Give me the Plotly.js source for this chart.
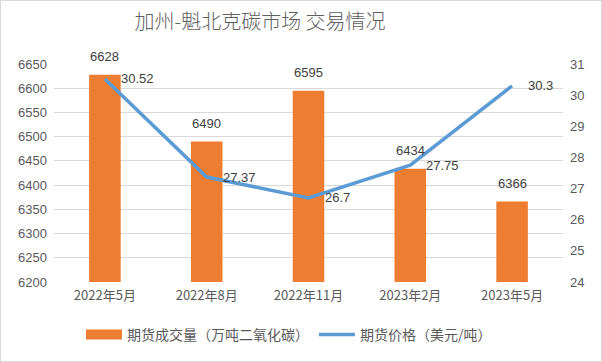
<!DOCTYPE html>
<html><head><meta charset="utf-8">
<script src="https://cdn.plot.ly/plotly-3.0.1.min.js"></script>
<style>
html,body{margin:0;padding:0;background:#fff;}
#wrap{position:relative;width:602px;height:362px;}
#chart{position:absolute;left:0;top:0;width:602px;height:362px;}
#frame{position:absolute;left:0;top:0;width:600px;height:360px;border:1px solid #d9d9d9;pointer-events:none;}
</style></head>
<body>
<div id="wrap"><div id="chart"></div><div id="frame"></div></div>
<script>
const categories = ["2022年5月","2022年8月","2022年11月","2023年2月","2023年5月"];
const volume = [6628, 6490, 6595, 6434, 6366];
const price = [30.52, 27.37, 26.7, 27.75, 30.3];
const leftTicks = [6200,6250,6300,6350,6400,6450,6500,6550,6600,6650];
const rightTicks = [24,25,26,27,28,29,30,31];

const font = "'Noto Sans CJK SC', 'Liberation Sans', sans-serif";
const numFont = "'Liberation Sans', sans-serif";
const txt = '#595959';
const orange = '#ED7D31';
const blue = '#5B9BD5';

const traces = [
  {
    type:'bar', x:categories, y:volume, name:'期货成交量（万吨二氧化碳）',
    marker:{color:orange}, width:0.31, showlegend:false, legendgroup:'vol'
  },
  {
    type:'scatter', mode:'lines', x:[null], y:[null],
    name:'期货成交量（万吨二氧化碳）', legendgroup:'vol', showlegend:true,
    line:{color:orange, width:10}
  },
  {
    type:'scatter', mode:'lines', x:categories, y:price, yaxis:'y2',
    name:'期货价格（美元/吨）', line:{color:blue, width:3.5}
  }
];

const priceLabels = categories.map((c,i)=>({
  x:c, y:price[i], xref:'x', yref:'y2', text:String(price[i]),
  showarrow:false, xanchor:'left', yanchor:'middle', xshift:14,
  font:{family:numFont, size:13, color:'#404040'}
}));
const volumeLabels = categories.map((c,i)=>({
  x:c, y:volume[i], xref:'x', yref:'y', text:String(volume[i]),
  showarrow:false, xanchor:'center', yanchor:'middle', yshift:18,
  font:{family:numFont, size:13, color:'#404040'}
}));

const layout = {
  width:602, height:362,
  margin:{l:54, r:39, t:64, b:80, autoexpand:false},
  paper_bgcolor:'#fff', plot_bgcolor:'#fff',
  title:{text:'加州-魁北克碳市场 交易情况', x:0.432, xanchor:'center', y:0.94, yanchor:'middle',
    font:{family:font, size:20, color:'#606060', weight:300}},
  font:{family:font, color:txt},
  xaxis:{type:'category', showgrid:false, showline:false, zeroline:false, ticks:'',
    ticklabelstandoff:4,
    tickfont:{family:font, size:13, color:txt}},
  yaxis:{range:[6200,6650], tickvals:leftTicks, ticktext:leftTicks.map(String),
    showgrid:true, gridcolor:'#d9d9d9', gridwidth:1, zeroline:false, showline:false, ticks:'',
    ticklabelstandoff:6,
    tickfont:{family:numFont, size:13, color:txt}},
  yaxis2:{range:[24,31], tickvals:rightTicks, ticktext:rightTicks.map(String), overlaying:'y', side:'right',
    showgrid:false, zeroline:false, showline:false, ticks:'',
    ticklabelstandoff:6,
    tickfont:{family:numFont, size:13, color:txt}},
  legend:{orientation:'h', x:0.48, xanchor:'center', xref:'container', y:0.075, yanchor:'middle', yref:'container',
    font:{family:font, size:14, color:txt}, itemwidth:36},
  annotations:volumeLabels.concat(priceLabels),
  showlegend:true
};

Plotly.newPlot('chart', traces, layout, {displayModeBar:false, staticPlot:true});
</script>
</body></html>
